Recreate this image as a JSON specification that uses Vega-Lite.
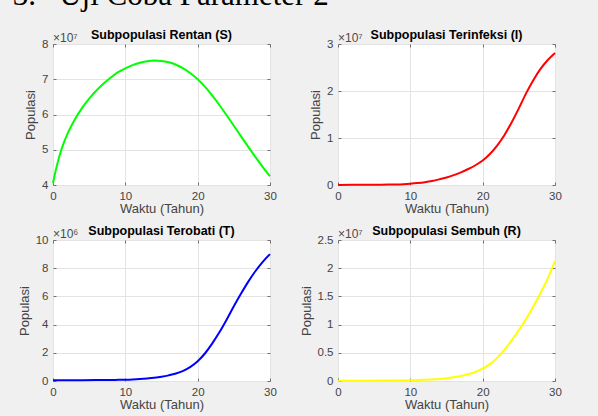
{
  "$schema": "https://vega.github.io/schema/vega-lite/v6.json",
  "background": "#f0f0f0",
  "padding": {"left": 12, "top": -21, "right": 40, "bottom": 6},
  "title": {
    "text": "\u00a03.\u00a0\u00a0\u00a0Uji Coba Parameter 2",
    "font": "Liberation Serif",
    "fontSize": 31,
    "fontWeight": "normal",
    "color": "#000000",
    "anchor": "start",
    "frame": "bounds",
    "offset": 16.5,
    "dx": -5
  },
  "datasets": {
    "S": [
      {"t": 0, "pop": 40500000}, {"t": 0.25, "pop": 43000000}, {"t": 0.5, "pop": 45200000},
      {"t": 1, "pop": 49000000}, {"t": 1.5, "pop": 52000000}, {"t": 2, "pop": 54500000},
      {"t": 3, "pop": 58500000}, {"t": 4, "pop": 61800000}, {"t": 5, "pop": 64500000},
      {"t": 6, "pop": 66800000}, {"t": 7, "pop": 68800000}, {"t": 8, "pop": 70500000},
      {"t": 9, "pop": 72000000}, {"t": 10, "pop": 73100000}, {"t": 11, "pop": 74000000},
      {"t": 12, "pop": 74700000}, {"t": 13, "pop": 75100000}, {"t": 14, "pop": 75300000},
      {"t": 15, "pop": 75200000}, {"t": 16, "pop": 74800000}, {"t": 17, "pop": 74100000},
      {"t": 18, "pop": 73100000}, {"t": 19, "pop": 71700000}, {"t": 20, "pop": 70000000},
      {"t": 21, "pop": 67900000}, {"t": 22, "pop": 65400000}, {"t": 23, "pop": 62700000},
      {"t": 24, "pop": 59800000}, {"t": 25, "pop": 56800000}, {"t": 26, "pop": 53800000},
      {"t": 27, "pop": 50800000}, {"t": 28, "pop": 47900000}, {"t": 29, "pop": 45100000},
      {"t": 30, "pop": 42500000}
    ],
    "I": [
      {"t": 0, "pop": 20000}, {"t": 2, "pop": 30000}, {"t": 4, "pop": 40000},
      {"t": 5, "pop": 50000}, {"t": 6, "pop": 60000}, {"t": 7, "pop": 80000},
      {"t": 8, "pop": 120000}, {"t": 9, "pop": 180000}, {"t": 10, "pop": 280000},
      {"t": 11, "pop": 420000}, {"t": 12, "pop": 600000}, {"t": 13, "pop": 850000},
      {"t": 14, "pop": 1200000}, {"t": 15, "pop": 1600000}, {"t": 16, "pop": 2100000},
      {"t": 17, "pop": 2700000}, {"t": 18, "pop": 3400000}, {"t": 19, "pop": 4200000},
      {"t": 20, "pop": 5200000}, {"t": 21, "pop": 6600000}, {"t": 22, "pop": 8400000},
      {"t": 23, "pop": 10600000}, {"t": 24, "pop": 13300000}, {"t": 25, "pop": 16300000},
      {"t": 26, "pop": 19500000}, {"t": 27, "pop": 22300000}, {"t": 28, "pop": 24700000},
      {"t": 29, "pop": 26600000}, {"t": 30, "pop": 28100000}
    ],
    "T": [
      {"t": 0, "pop": 60000}, {"t": 2, "pop": 60000}, {"t": 4, "pop": 60000},
      {"t": 6, "pop": 65000}, {"t": 8, "pop": 70000}, {"t": 9, "pop": 80000},
      {"t": 10, "pop": 90000}, {"t": 11, "pop": 110000}, {"t": 12, "pop": 140000},
      {"t": 13, "pop": 180000}, {"t": 14, "pop": 230000}, {"t": 15, "pop": 300000},
      {"t": 16, "pop": 400000}, {"t": 17, "pop": 530000}, {"t": 18, "pop": 720000},
      {"t": 19, "pop": 1000000}, {"t": 20, "pop": 1400000}, {"t": 21, "pop": 1950000},
      {"t": 22, "pop": 2650000}, {"t": 23, "pop": 3450000}, {"t": 24, "pop": 4350000},
      {"t": 25, "pop": 5300000}, {"t": 26, "pop": 6200000}, {"t": 27, "pop": 7050000},
      {"t": 28, "pop": 7800000}, {"t": 29, "pop": 8450000}, {"t": 30, "pop": 9000000}
    ],
    "R": [
      {"t": 0, "pop": 50000}, {"t": 2, "pop": 50000}, {"t": 4, "pop": 60000},
      {"t": 6, "pop": 70000}, {"t": 8, "pop": 90000}, {"t": 10, "pop": 130000},
      {"t": 11, "pop": 160000}, {"t": 12, "pop": 210000}, {"t": 13, "pop": 280000},
      {"t": 14, "pop": 370000}, {"t": 15, "pop": 500000}, {"t": 16, "pop": 680000},
      {"t": 17, "pop": 900000}, {"t": 18, "pop": 1200000}, {"t": 19, "pop": 1600000},
      {"t": 20, "pop": 2200000}, {"t": 21, "pop": 3000000}, {"t": 22, "pop": 4100000},
      {"t": 23, "pop": 5500000}, {"t": 24, "pop": 7200000}, {"t": 25, "pop": 9000000},
      {"t": 26, "pop": 11000000}, {"t": 27, "pop": 13200000}, {"t": 28, "pop": 15600000},
      {"t": 29, "pop": 18200000}, {"t": 30, "pop": 21300000}
    ]
  },
  "columns": 2,
  "spacing": {"row": 55, "column": 68},
  "bounds": "flush",
  "concat": [
    {
      "width": 217, "height": 141,
      "title": "Subpopulasi Rentan (S)",
      "layer": [
        {
          "data": {"name": "S"},
          "mark": {"type": "line", "color": "#00ff00", "strokeWidth": 2, "interpolate": "monotone"},
          "encoding": {
            "x": {"field": "t", "type": "quantitative", "scale": {"domain": [0, 30], "nice": false, "zero": false}, "axis": {"title": "Waktu (Tahun)", "values": [0, 10, 20, 30]}},
            "y": {"field": "pop", "type": "quantitative", "scale": {"domain": [40000000, 80000000], "nice": false, "zero": false}, "axis": {"title": "Populasi", "values": [40000000, 50000000, 60000000, 70000000, 80000000], "labelExpr": "datum.value / 1e7"}}
          }
        },
        {
          "data": {"values": [{"label": "×10⁷"}]},
          "mark": {"type": "text", "align": "left", "baseline": "alphabetic", "dy": -2, "fontSize": 12, "color": "#4a4a4a"},
          "encoding": {
            "x": {"datum": 0, "type": "quantitative", "scale": {"domain": [0, 30], "nice": false, "zero": false}, "axis": {"orient": "top", "values": [0, 10, 20, 30], "labels": false, "grid": false, "title": null}},
            "y": {"datum": 80000000, "type": "quantitative", "scale": {"domain": [40000000, 80000000], "nice": false, "zero": false}, "axis": {"orient": "right", "values": [40000000, 50000000, 60000000, 70000000, 80000000], "labels": false, "grid": false, "title": null}},
            "text": {"field": "label"}
          }
        }
      ],
      "resolve": {"axis": {"x": "independent", "y": "independent"}}
    },
    {
      "width": 217, "height": 141,
      "title": "Subpopulasi Terinfeksi (I)",
      "layer": [
        {
          "data": {"name": "I"},
          "mark": {"type": "line", "color": "#ff0000", "strokeWidth": 2, "interpolate": "monotone"},
          "encoding": {
            "x": {"field": "t", "type": "quantitative", "scale": {"domain": [0, 30], "nice": false, "zero": false}, "axis": {"title": "Waktu (Tahun)", "values": [0, 10, 20, 30]}},
            "y": {"field": "pop", "type": "quantitative", "scale": {"domain": [0, 30000000], "nice": false, "zero": false}, "axis": {"title": "Populasi", "values": [0, 10000000, 20000000, 30000000], "labelExpr": "datum.value / 1e7"}}
          }
        },
        {
          "data": {"values": [{"label": "×10⁷"}]},
          "mark": {"type": "text", "align": "left", "baseline": "alphabetic", "dy": -2, "fontSize": 12, "color": "#4a4a4a"},
          "encoding": {
            "x": {"datum": 0, "type": "quantitative", "scale": {"domain": [0, 30], "nice": false, "zero": false}, "axis": {"orient": "top", "values": [0, 10, 20, 30], "labels": false, "grid": false, "title": null}},
            "y": {"datum": 30000000, "type": "quantitative", "scale": {"domain": [0, 30000000], "nice": false, "zero": false}, "axis": {"orient": "right", "values": [0, 10000000, 20000000, 30000000], "labels": false, "grid": false, "title": null}},
            "text": {"field": "label"}
          }
        }
      ],
      "resolve": {"axis": {"x": "independent", "y": "independent"}}
    },
    {
      "width": 217, "height": 141,
      "title": "Subpopulasi Terobati (T)",
      "layer": [
        {
          "data": {"name": "T"},
          "mark": {"type": "line", "color": "#0000ff", "strokeWidth": 2, "interpolate": "monotone"},
          "encoding": {
            "x": {"field": "t", "type": "quantitative", "scale": {"domain": [0, 30], "nice": false, "zero": false}, "axis": {"title": "Waktu (Tahun)", "values": [0, 10, 20, 30]}},
            "y": {"field": "pop", "type": "quantitative", "scale": {"domain": [0, 10000000], "nice": false, "zero": false}, "axis": {"title": "Populasi", "values": [0, 2000000, 4000000, 6000000, 8000000, 10000000], "labelExpr": "datum.value / 1e6"}}
          }
        },
        {
          "data": {"values": [{"label": "×10⁶"}]},
          "mark": {"type": "text", "align": "left", "baseline": "alphabetic", "dy": -2, "fontSize": 12, "color": "#4a4a4a"},
          "encoding": {
            "x": {"datum": 0, "type": "quantitative", "scale": {"domain": [0, 30], "nice": false, "zero": false}, "axis": {"orient": "top", "values": [0, 10, 20, 30], "labels": false, "grid": false, "title": null}},
            "y": {"datum": 10000000, "type": "quantitative", "scale": {"domain": [0, 10000000], "nice": false, "zero": false}, "axis": {"orient": "right", "values": [0, 2000000, 4000000, 6000000, 8000000, 10000000], "labels": false, "grid": false, "title": null}},
            "text": {"field": "label"}
          }
        }
      ],
      "resolve": {"axis": {"x": "independent", "y": "independent"}}
    },
    {
      "width": 217, "height": 141,
      "title": "Subpopulasi Sembuh (R)",
      "layer": [
        {
          "data": {"name": "R"},
          "mark": {"type": "line", "color": "#ffff00", "strokeWidth": 2, "interpolate": "monotone"},
          "encoding": {
            "x": {"field": "t", "type": "quantitative", "scale": {"domain": [0, 30], "nice": false, "zero": false}, "axis": {"title": "Waktu (Tahun)", "values": [0, 10, 20, 30]}},
            "y": {"field": "pop", "type": "quantitative", "scale": {"domain": [0, 25000000], "nice": false, "zero": false}, "axis": {"title": "Populasi", "values": [0, 5000000, 10000000, 15000000, 20000000, 25000000], "labelExpr": "datum.value / 1e7"}}
          }
        },
        {
          "data": {"values": [{"label": "×10⁷"}]},
          "mark": {"type": "text", "align": "left", "baseline": "alphabetic", "dy": -2, "fontSize": 12, "color": "#4a4a4a"},
          "encoding": {
            "x": {"datum": 0, "type": "quantitative", "scale": {"domain": [0, 30], "nice": false, "zero": false}, "axis": {"orient": "top", "values": [0, 10, 20, 30], "labels": false, "grid": false, "title": null}},
            "y": {"datum": 25000000, "type": "quantitative", "scale": {"domain": [0, 25000000], "nice": false, "zero": false}, "axis": {"orient": "right", "values": [0, 5000000, 10000000, 15000000, 20000000, 25000000], "labels": false, "grid": false, "title": null}},
            "text": {"field": "label"}
          }
        }
      ],
      "resolve": {"axis": {"x": "independent", "y": "independent"}}
    }
  ],
  "config": {
    "font": "Liberation Sans",
    "view": {"stroke": "#8c8c8c", "strokeWidth": 1, "fill": "#ffffff"},
    "title": {"font": "Liberation Sans", "fontSize": 12.5, "fontWeight": "bold", "color": "#000000", "frame": "group", "offset": -9, "anchor": "middle"},
    "axis": {
      "labelFont": "Liberation Sans", "labelFontSize": 11.5, "labelColor": "#444444",
      "labelFlush": false, "labelOverlap": false, "labelBound": false,
      "titleFont": "Liberation Sans", "titleFontSize": 13, "titleFontWeight": "normal", "titleColor": "#444444",
      "domain": false, "gridColor": "#e3e3e3", "gridOpacity": 1, "gridWidth": 1,
      "tickColor": "#707070", "tickSize": -3, "tickWidth": 1
    },
    "axisX": {"labelPadding": 8, "titlePadding": 1},
    "axisY": {"labelPadding": 8, "titlePadding": 4}
  }
}
